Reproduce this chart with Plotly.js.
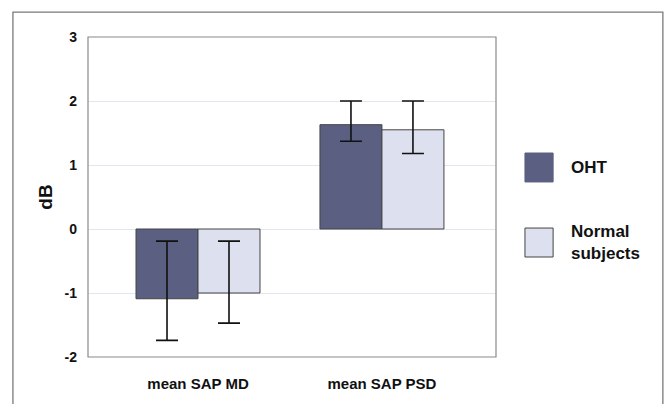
<!DOCTYPE html>
<html>
<head>
<meta charset="utf-8">
<script src="https://cdn.plot.ly/plotly-3.0.1.min.js"></script>
<style>html,body{margin:0;padding:0;background:#fff;}#chart{width:671px;height:404px;}</style>
</head>
<body>
<div id="chart"></div>
<script>
var categories = ["mean SAP MD", "mean SAP PSD"];
var seriesNames = ["OHT", "Normal subjects"];
var ohtValues = [-1.09, 1.63];
var ohtErrPlus = [0.90, 0.37];
var ohtErrMinus = [0.65, 0.26];
var normalValues = [-1.0, 1.55];
var normalErrPlus = [0.81, 0.45];
var normalErrMinus = [0.47, 0.37];
var yTicks = [-2, -1, 0, 1, 2, 3];

var colors = ["#5b6082", "#dde0ee"];
var font = "Liberation Sans, Arial, sans-serif";

function bar(name, vals, plus, minus, color) {
  return {
    type: "bar", name: name, x: [0, 1], y: vals,
    marker: {color: color, line: {color: "#444", width: 1}},
    error_y: {type: "data", symmetric: false, array: plus, arrayminus: minus,
              color: "#111", thickness: 1.6, width: 11},
    showlegend: false
  };
}

var data = [
  bar(seriesNames[0], ohtValues, ohtErrPlus, ohtErrMinus, colors[0]),
  bar(seriesNames[1], normalValues, normalErrPlus, normalErrMinus, colors[1])
];

var layout = {
  width: 671, height: 404,
  margin: {l: 88, r: 175, t: 37, b: 47},
  paper_bgcolor: "#fff", plot_bgcolor: "#fff",
  barmode: "group", bargap: 0.326, bargroupgap: 0,
  font: {family: font, color: "#111"},
  xaxis: {
    range: [-0.598, 1.62], tickvals: [0, 1], ticktext: categories,
    showgrid: false, zeroline: false, showline: false, ticks: "",
    ticklabelstandoff: 16,
    tickfont: {family: font, size: 15, weight: "bold", color: "#111"}
  },
  yaxis: {
    range: [-2, 3], tickvals: yTicks, ticktext: yTicks.map(String),
    showgrid: true, gridcolor: "#e3e5ee", gridwidth: 1,
    zeroline: true, zerolinecolor: "#e3e5ee", zerolinewidth: 1,
    showline: false, ticks: "", ticklabelstandoff: 10,
    tickfont: {family: font, size: 14, weight: "bold", color: "#111"},
    title: {text: "dB", standoff: 6, font: {family: font, size: 19, weight: "bold", color: "#111"}}
  },
  shapes: [
    {type: "rect", xref: "paper", yref: "paper", x0: 0, x1: 1, y0: 0, y1: 1,
     line: {color: "#8a8a8a", width: 1.2}, layer: "above"},
    {type: "rect", xref: "paper", yref: "paper", x0: -0.184, x1: 1.409, y0: -0.3, y1: 1.078,
     line: {color: "#7a7a7a", width: 1.3}},
    {type: "rect", xref: "paper", yref: "paper", x0: 1.071, x1: 1.140, y0: 0.547, y1: 0.6375,
     fillcolor: colors[0], line: {color: "#5b6082", width: 1}},
    {type: "rect", xref: "paper", yref: "paper", x0: 1.071, x1: 1.140, y0: 0.3125, y1: 0.403,
     fillcolor: colors[1], line: {color: "#444", width: 1}}
  ],
  annotations: [
    {xref: "paper", yref: "paper", x: 1.178, y: 0.592, xanchor: "left", yanchor: "middle",
     text: seriesNames[0], showarrow: false, align: "left",
     font: {family: font, size: 17, weight: "bold", color: "#111"}},
    {xref: "paper", yref: "paper", x: 1.178, y: 0.357, xanchor: "left", yanchor: "middle",
     text: "Normal<br>subjects", showarrow: false, align: "left",
     font: {family: font, size: 17, weight: "bold", color: "#111"}}
  ]
};

Plotly.newPlot("chart", data, layout, {staticPlot: true, displayModeBar: false});
</script>
</body>
</html>
